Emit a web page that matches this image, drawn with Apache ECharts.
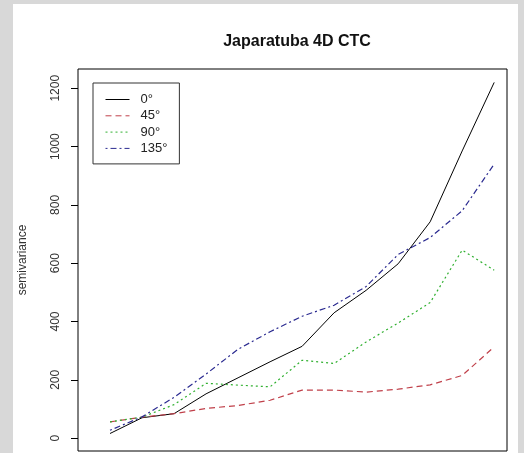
<!DOCTYPE html>
<html>
<head>
<meta charset="utf-8">
<script src="https://cdn.jsdelivr.net/npm/echarts@6/dist/echarts.min.js"></script>
<style>
html,body{margin:0;padding:0;background:#d8d8d8;}
#c{width:524px;height:453px;}
</style>
</head>
<body>
<div id="c"></div>
<script>
// lag index (x positions of the variogram bins)
var lags = [1, 2, 3, 4, 5, 6, 7, 8, 9, 10, 11, 12, 13];
// semivariance by direction
var dir0   = [16, 70, 84, 152, 207, 262, 315, 430, 507, 598, 742, 985, 1220];
var dir45  = [56, 72, 84, 102, 112, 130, 165, 165, 158, 168, 183, 215, 313];
var dir90  = [56, 72, 115, 188, 182, 176, 267, 256, 330, 395, 465, 645, 576];
var dir135 = [27, 73, 140, 220, 305, 365, 418, 456, 520, 630, 688, 780, 940];
var seriesNames = ['0°', '45°', '90°', '135°'];
var yTicks = [0, 200, 400, 600, 800, 1000, 1200];

function pairs(v){ return lags.map(function(x,i){ return [x, v[i]]; }); }

var chart = echarts.init(document.getElementById('c'), null, {renderer:'canvas'});
var font = 'Liberation Sans, Arial, sans-serif';
chart.setOption({
  animation: false,
  backgroundColor: '#d8d8d8',
  graphic: [{
    type: 'rect', z: -10, silent: true,
    shape: {x: 13, y: 4, width: 505, height: 449},
    style: {fill: '#ffffff'}
  }],
  title: {
    text: 'Japaratuba 4D CTC',
    left: 292, top: 29, textAlign: 'center',
    textStyle: {fontFamily: font, fontSize: 16, fontWeight: 'bold', color: '#111'}
  },
  grid: {
    left: 78, right: 17, top: 69, bottom: 2,
    show: true, borderColor: '#000', borderWidth: 1, backgroundColor: '#fff'
  },
  legend: {
    left: 93, top: 83, orient: 'vertical',
    width: 60,
    padding: [10, 12, 9, 12],
    itemWidth: 24, itemHeight: 12, itemGap: 3.3,
    itemStyle: {opacity: 0},
    lineStyle: {width: 1},
    borderColor: '#333', borderWidth: 1, backgroundColor: '#fff',
    textStyle: {fontFamily: font, fontSize: 13, color: '#222', padding: [0, 0, 0, 6]},
    data: seriesNames
  },
  xAxis: {
    type: 'value', min: 0, max: 13.4,
    axisLine: {show: false}, axisTick: {show: false},
    axisLabel: {show: false}, splitLine: {show: false}
  },
  yAxis: {
    type: 'value', min: -44, max: 1266,
    name: 'semivariance', nameLocation: 'middle', nameGap: 49,
    nameRotate: 90,
    nameTextStyle: {fontFamily: font, fontSize: 12, color: '#333'},
    axisLine: {show: false},
    axisTick: {show: true, length: 7, customValues: yTicks, lineStyle: {color: '#000'}},
    axisLabel: {show: true, rotate: 90, margin: 16, customValues: yTicks,
      formatter: function(v){ return String(v); },
      fontFamily: font, fontSize: 12, color: '#333'},
    splitLine: {show: false}
  },
  series: [
    {name: seriesNames[0], type: 'line', data: pairs(dir0), symbol: 'none',
     lineStyle: {color: '#000', width: 1, type: 'solid'}, itemStyle: {color: '#000'}},
    {name: seriesNames[1], type: 'line', data: pairs(dir45), symbol: 'none',
     lineStyle: {color: '#c0404a', width: 1.2, type: [6, 4]}, itemStyle: {color: '#c0404a'}},
    {name: seriesNames[2], type: 'line', data: pairs(dir90), symbol: 'none',
     lineStyle: {color: '#30b030', width: 1.2, type: [2, 3]}, itemStyle: {color: '#30b030'}},
    {name: seriesNames[3], type: 'line', data: pairs(dir135), symbol: 'none',
     lineStyle: {color: '#2a2a90', width: 1.2, type: [2, 3, 6, 3]}, itemStyle: {color: '#2a2a90'}}
  ]
});
</script>
</body>
</html>
